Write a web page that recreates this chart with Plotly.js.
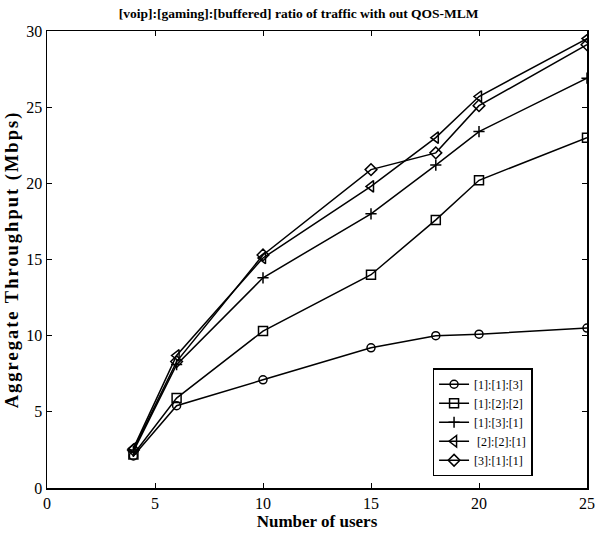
<!DOCTYPE html>
<html>
<head>
<meta charset="utf-8">
<script src="https://cdn.plot.ly/plotly-3.0.1.min.js"></script>
<style>
  html, body { margin: 0; padding: 0; background: #fff; }
  #chart { width: 595px; height: 533px; }
  /* slightly spaced lettering for the vertical axis title */
  #chart .ytitle { letter-spacing: 2px; }
</style>
</head>
<body>
<div id="chart"></div>
<script>
// Number of users on the x axis
const users = [4, 6, 10, 15, 18, 20, 25];

// Aggregate throughput (Mbps) per traffic ratio [voip]:[gaming]:[buffered]
const ratio113 = [2.1, 5.4, 7.1, 9.2, 10.0, 10.1, 10.5];
const ratio122 = [2.2, 5.9, 10.3, 14.0, 17.6, 20.2, 23.0];
const ratio131 = [2.4, 8.1, 13.8, 18.0, 21.2, 23.4, 26.9];
const ratio221 = [2.6, 8.7, 15.1, 19.8, 23.0, 25.7, 29.5];
const ratio311 = [2.5, 8.3, 15.3, 20.9, 22.0, 25.1, 29.1];

const seriesNames = ['[1]:[1]:[3]', '[1]:[2]:[2]', '[1]:[3]:[1]', ' [2]:[2]:[1]', '[3]:[1]:[1]'];
const seriesValues = [ratio113, ratio122, ratio131, ratio221, ratio311];
const markerSymbols = ['circle-open', 'square-open', 'cross-thin-open', 'triangle-left-open', 'diamond-open'];
const markerSizes = [8, 9, 8, 10, 9];

const traces = seriesValues.map((vals, i) => ({
  x: users,
  y: vals,
  name: seriesNames[i],
  type: 'scatter',
  mode: 'lines+markers',
  line: { color: '#000', width: 1.5 },
  marker: { symbol: markerSymbols[i], size: markerSizes[i], color: '#000', line: { color: '#000', width: 1.5 } }
}));

const serif = 'Liberation Serif, Times New Roman, serif';

const layout = {
  width: 595,
  height: 533,
  margin: { l: 47, r: 8, t: 31, b: 45 },
  paper_bgcolor: '#fff',
  plot_bgcolor: '#fff',
  font: { family: serif, size: 16, color: '#000' },
  title: {
    text: '<b>[voip]:[gaming]:[buffered] ratio of traffic with out QOS-MLM</b>',
    font: { family: serif, size: 13.5, color: '#000' },
    x: 0.502, xanchor: 'center', y: 0.976, yanchor: 'middle'
  },
  xaxis: {
    range: [0, 25],
    tickvals: [0, 5, 10, 15, 20, 25],
    ticks: 'inside', ticklen: 5, tickcolor: '#000',
    showline: true, linecolor: '#000', linewidth: 1.5, mirror: 'ticks',
    showgrid: false, zeroline: false,
    tickfont: { family: serif, size: 16, color: '#000' },
    title: { text: '<b>Number of users</b>', font: { family: serif, size: 17, color: '#000' }, standoff: 1 }
  },
  yaxis: {
    range: [0, 30],
    tickvals: [0, 5, 10, 15, 20, 25, 30],
    ticks: 'inside', ticklen: 5, tickcolor: '#000',
    showline: true, linecolor: '#000', linewidth: 1.5, mirror: 'ticks',
    showgrid: false, zeroline: false,
    tickfont: { family: serif, size: 16, color: '#000' },
    title: { text: '<b>Aggregate Throughput (Mbps)</b>', font: { family: serif, size: 18.5, color: '#000' }, standoff: 3 }
  },
  showlegend: true,
  legend: {
    x: 0.714, xanchor: 'left',
    y: 0.262, yanchor: 'top',
    bgcolor: '#fff',
    bordercolor: '#000', borderwidth: 1.5,
    font: { family: serif, size: 12, color: '#000' },
    tracegroupgap: 0,
    itemwidth: 30
  }
};

Plotly.newPlot('chart', traces, layout, { displayModeBar: false, staticPlot: true });
</script>
</body>
</html>
